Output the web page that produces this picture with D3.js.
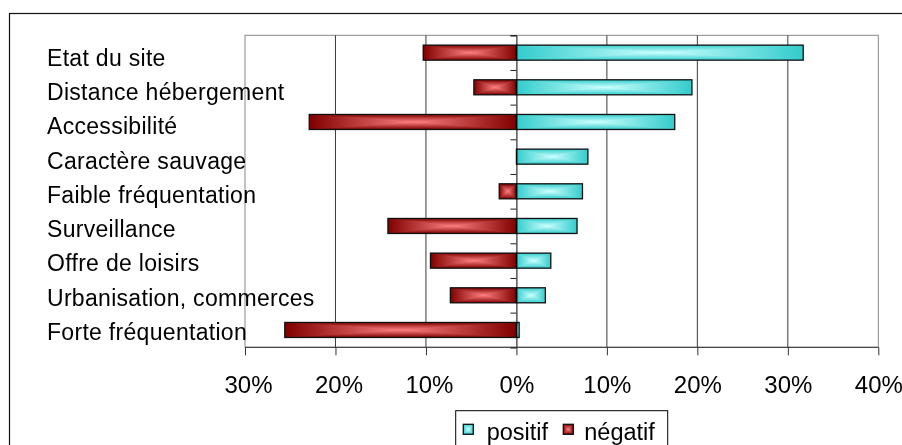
<!DOCTYPE html>
<html>
<head>
<meta charset="utf-8">
<script src="https://cdn.jsdelivr.net/npm/d3@7/dist/d3.min.js"></script>
<style>
  html, body { margin: 0; padding: 0; background: #fff; }
  svg { display: block; font-family: "Liberation Sans", Arial, sans-serif; }
</style>
</head>
<body>
<svg id="chart" width="902" height="445"></svg>
<script>
// Facteurs de choix du site : part des réponses positives / négatives (%)
const categories = [
  "Etat du site",
  "Distance hébergement",
  "Accessibilité",
  "Caractère sauvage",
  "Faible fréquentation",
  "Surveillance",
  "Offre de loisirs",
  "Urbanisation, commerces",
  "Forte fréquentation"
];
const positif = [31.7, 19.4, 17.5, 7.9, 7.3, 6.7, 3.8, 3.2, 0.3];
const negatif = [-10.3, -4.7, -22.9, 0, -1.9, -14.2, -9.5, -7.3, -25.6];
const xTicks = [-30, -20, -10, 0, 10, 20, 30, 40];
const seriesNames = ["positif", "négatif"];

const svg = d3.select("#chart");
const plot = { left: 245, right: 878.3, top: 35.3, bottom: 347.3 };

// Cadre extérieur du graphique
svg.append("rect")
  .attr("x", 9.5).attr("y", 13.5)
  .attr("width", 1000).attr("height", 1000)
  .attr("fill", "none").attr("stroke", "#111").attr("stroke-width", 1.2);

const x = d3.scaleLinear().domain([-30, 40]).range([plot.left, plot.right]);
const y = d3.scaleBand().domain(categories)
  .range([plot.top, plot.bottom])
  .paddingInner(0.567).paddingOuter(0.2835);
const yEdge = d3.scaleLinear().domain([0, categories.length]).range([plot.top, plot.bottom]);
const labelY = d3.scalePoint().domain(categories).range([65.7, 340]);

// Dégradés « depuis le centre » : un dégradé horizontal et un vertical combinés
const defs = svg.append("defs");
const palettes = {
  pos: { edge: "#33cccc", mid: "#ccffff" },
  neg: { edge: "#800000", mid: "#ff8080" }
};
Object.entries(palettes).forEach(([key, p]) => {
  [["h", 1, 0], ["v", 0, 1]].forEach(([dir, x2, y2]) => {
    const g = defs.append("linearGradient")
      .attr("id", `grad-${key}-${dir}`)
      .attr("x1", 0).attr("y1", 0).attr("x2", x2).attr("y2", y2);
    g.append("stop").attr("offset", 0).attr("stop-color", p.edge);
    g.append("stop").attr("offset", 0.5).attr("stop-color", p.mid);
    g.append("stop").attr("offset", 1).attr("stop-color", p.edge);
  });
});

// Zone de tracé et quadrillage
svg.append("rect")
  .attr("x", plot.left).attr("y", plot.top)
  .attr("width", plot.right - plot.left).attr("height", plot.bottom - plot.top)
  .attr("fill", "#fff").attr("stroke", "#888").attr("stroke-width", 1);

svg.append("g").selectAll("line")
  .data(xTicks.filter(t => t !== 0 && t !== -30 && t !== 40))
  .join("line")
  .attr("x1", d => x(d)).attr("x2", d => x(d))
  .attr("y1", plot.top).attr("y2", plot.bottom)
  .attr("stroke", "#3a3a3a").attr("stroke-width", 1);

// Barres
function drawBar(g, x0, x1, yy, h, key) {
  const bx = Math.min(x0, x1), bw = Math.abs(x1 - x0);
  if (bw <= 0) return;
  g.append("rect").attr("x", bx).attr("y", yy).attr("width", bw).attr("height", h)
    .attr("fill", `url(#grad-${key}-h)`);
  g.append("rect").attr("x", bx).attr("y", yy).attr("width", bw).attr("height", h)
    .attr("fill", `url(#grad-${key}-v)`).style("mix-blend-mode", "darken");
  g.append("rect").attr("x", bx).attr("y", yy).attr("width", bw).attr("height", h)
    .attr("fill", "none").attr("stroke", "#111").attr("stroke-width", 1.3);
}

const bars = svg.append("g").style("isolation", "isolate");
categories.forEach((c, i) => {
  drawBar(bars, x(0), x(negatif[i]), y(c), y.bandwidth(), "neg");
  drawBar(bars, x(0), x(positif[i]), y(c), y.bandwidth(), "pos");
});

// Axe vertical (0 %) avec graduations aux limites des catégories
svg.append("g")
  .attr("transform", `translate(${x(0)},0)`)
  .call(d3.axisLeft(yEdge).tickValues(d3.range(categories.length + 1)).tickSize(6).tickFormat(""))
  .call(g => g.select(".domain").attr("stroke", "#000"))
  .call(g => g.selectAll(".tick line").attr("stroke", "#222"));

// Axe horizontal
const xAxis = svg.append("g")
  .attr("transform", `translate(0,${plot.bottom})`)
  .call(d3.axisBottom(x).tickValues(xTicks).tickSize(8).tickFormat(d => Math.abs(d) + "%"));
xAxis.select(".domain").attr("stroke", "#333").attr("d", `M${plot.left},0H${plot.right}`);
xAxis.selectAll(".tick line").attr("stroke", "#333");
xAxis.selectAll(".tick text")
  .attr("y", 46).attr("dy", 0)
  .attr("dx", d => d < 0 ? 3 : 0)
  .attr("fill", "#000")
  .style("font-size", "24px")
  .style("font-family", "'Liberation Sans', Arial, sans-serif");

// Libellés des catégories
svg.append("g").selectAll("text")
  .data(categories)
  .join("text")
  .attr("x", 47).attr("y", d => labelY(d))
  .attr("fill", "#000")
  .style("font-size", "23px")
  .style("letter-spacing", "0.3px")
  .text(d => d);

// Légende
const legend = svg.append("g");
legend.append("rect")
  .attr("x", 455.7).attr("y", 410.7).attr("width", 212).attr("height", 60)
  .attr("fill", "#fff").attr("stroke", "#000").attr("stroke-width", 1);
const legendItems = [
  { name: seriesNames[0], key: "pos", sx: 463.3, tx: 486.7 },
  { name: seriesNames[1], key: "neg", sx: 563.3, tx: 584.3 }
];
legendItems.forEach(it => {
  drawBar(legend, it.sx, it.sx + 10, 424.3, 10, it.key);
  legend.append("text")
    .attr("x", it.tx).attr("y", 440)
    .attr("fill", "#000")
    .style("font-size", "23.5px")
    .text(it.name);
});
</script>
</body>
</html>
